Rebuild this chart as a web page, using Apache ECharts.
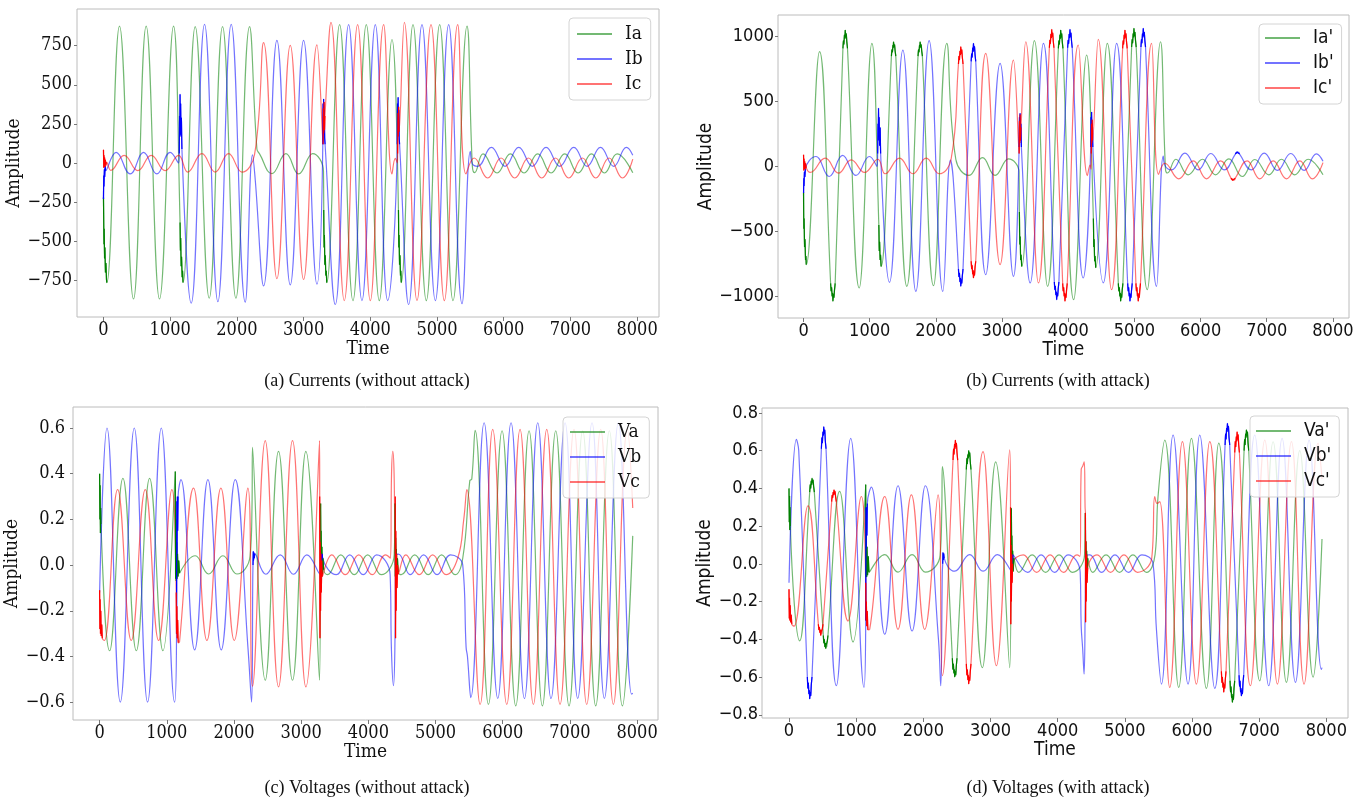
<!DOCTYPE html>
<html>
<head>
<meta charset="utf-8">
<title>Currents and voltages with and without attack</title>
<script src="https://cdn.jsdelivr.net/npm/echarts@6.0.0/dist/echarts.min.js"></script>
<style>
  html, body { margin: 0; padding: 0; background: #fff; }
  #chart { width: 1370px; height: 805px; }
</style>
</head>
<body>
<div id="chart"></div>
<script>
// tick labels
var timeTicks = [0, 1000, 2000, 3000, 4000, 5000, 6000, 7000, 8000];
var ampTicksA = [-750, -500, -250, 0, 250, 500, 750];
var ampTicksB = [-1000, -500, 0, 500, 1000];
var ampTicksC = [-0.6, -0.4, -0.2, 0, 0.2, 0.4, 0.6];
var ampTicksD = [-0.8, -0.6, -0.4, -0.2, 0, 0.2, 0.4, 0.6, 0.8];

var namesA = ['Ia', 'Ib', 'Ic'];
var namesB = ["Ia'", "Ib'", "Ic'"];
var namesC = ['Va', 'Vb', 'Vc'];
var namesD = ["Va'", "Vb'", "Vc'"];

// (a) currents without attack: [time, amplitude] at peaks, troughs and fault edges
var iaA = [[240,876],[450,-870],[640,876],[840,-870],[1050,876],[1375,872],[1585,-865],[1785,872],[1985,-865],[2190,872],[2300,90],[2340,58],[2525,-68],[2735,60],[2925,-70],[3135,60],[3298,-53],[3540,885],[3740,-880],[3940,885],[4135,-880],[4325,790],[4640,885],[4840,-880],[5040,885],[5240,-880],[5450,875],[5530,-20],[5565,-62],[5690,58],[5900,-64],[6100,58],[6305,-64],[6510,58],[6710,-64],[6915,58],[7115,-64],[7315,58],[7510,-64],[7700,58],[7935,-62]];
var ibA = [[190,68],[400,-70],[600,68],[800,-70],[1000,68],[1125,0],[1315,-897],[1515,887],[1715,-887],[1915,887],[2125,-890],[2235,52],[2275,-107],[2400,-786],[2600,784],[2800,-780],[3000,784],[3200,-775],[3475,-905],[3675,885],[3875,-880],[4075,885],[4260,-880],[4575,-905],[4775,885],[4975,-880],[5175,885],[5375,-900],[5500,75],[5530,-5],[5610,-21],[5815,100],[6020,-21],[6225,100],[6430,-21],[6635,100],[6840,-21],[7050,100],[7250,-21],[7450,100],[7650,-21],[7840,100],[7935,50]];
var icA = [[110,-47],[310,49],[515,-49],[715,49],[925,-49],[1125,49],[1265,-58],[1475,60],[1675,-58],[1875,60],[2075,-58],[2265,55],[2400,770],[2600,-740],[2800,752],[3000,-745],[3200,755],[3410,900],[3610,-880],[3810,885],[4000,-880],[4200,885],[4325,-70],[4375,30],[4405,0],[4510,900],[4700,-880],[4910,885],[5110,-880],[5310,885],[5435,-70],[5557,32],[5760,-96],[5960,32],[6165,-96],[6370,32],[6570,-96],[6775,32],[6975,-96],[7180,32],[7380,-96],[7580,32],[7780,-96],[7935,25]];
// dense noisy stretches (drawn dark)
var iaA_noise = [
  [[0,-220],[3,-350],[7,-520],[11,-420],[16,-610],[22,-540],[29,-700],[37,-640],[45,-745],[50,-765]],
  [[1148,-380],[1153,-560],[1158,-480],[1164,-660],[1171,-600],[1179,-730],[1186,-690],[1192,-765]],
  [[3302,-300],[3307,-540],[3312,-460],[3318,-650],[3325,-590],[3333,-720],[3340,-690],[3347,-765]],
  [[4422,-300],[4427,-540],[4432,-460],[4438,-650],[4445,-590],[4452,-720],[4458,-690],[4464,-765]]
];
var ibA_noise = [
  [[0,-230],[4,-80],[8,-150],[13,-40],[18,-90],[25,-20],[32,-50]],
  [[1136,60],[1140,300],[1144,180],[1148,440],[1152,230],[1157,380],[1162,170],[1168,290],[1176,90]],
  [[3288,120],[3292,380],[3296,240],[3300,410],[3305,220],[3310,340],[3316,160],[3322,120]],
  [[4404,120],[4408,380],[4412,240],[4417,420],[4422,220],[4427,340],[4433,160],[4439,120]]
];
var icA_noise = [
  [[0,85],[4,-30],[8,50],[12,-20],[17,35],[22,-25],[28,20],[35,-15],[45,5]],
  [[3292,120],[3297,350],[3302,190],[3307,390],[3313,210],[3320,300]],
  [[4410,60],[4415,320],[4420,170],[4425,360],[4431,200]]
];

// (b) currents with attack
var iaB = [[242,885],[444,-1038],[630,1051],[841,-936],[1033,949],[1360,961],[1561,-923],[1762,961],[1964,-918],[2165,949],[2301,56],[2502,-69],[2704,69],[2895,-69],[3096,59],[3257,-44],[3489,969],[3688,-923],[3886,1051],[4082,-1026],[4278,859],[4590,949],[4792,-1038],[4993,1064],[5194,-949],[5395,961],[5470,-20],[5500,-50],[5627,56],[5813,-64],[6030,56],[6226,-64],[6427,58],[6629,-77],[6820,54],[7031,-64],[7222,56],[7424,-64],[7625,56],[7850,-64]];
var ibB = [[187,77],[388,-77],[590,85],[791,-69],[997,77],[1110,0],[1299,-892],[1501,897],[1697,-962],[1898,969],[2105,-962],[2220,50],[2260,-80],[2376,-923],[2568,949],[2754,-833],[2970,795],[3172,-846],[3425,-897],[3625,949],[3825,-1026],[4026,1056],[4226,-859],[4530,-897],[4731,949],[4933,-1038],[5134,1064],[5335,-923],[5436,80],[5470,0],[5562,-26],[5763,103],[5964,-26],[6155,100],[6357,-26],[6558,115],[6769,-26],[6961,103],[7162,-30],[7363,100],[7565,-30],[7751,97],[7850,40]];
var icB = [[101,-46],[328,64],[529,-51],[720,51],[922,-46],[1123,56],[1234,-56],[1450,64],[1652,-56],[1853,64],[2049,-56],[2230,56],[2376,923],[2568,-859],[2754,872],[2970,-756],[3172,820],[3358,961],[3550,-897],[3750,1056],[3951,-1038],[4152,936],[4290,-70],[4330,10],[4345,-20],[4454,979],[4655,-949],[4857,1051],[5058,-1038],[5260,949],[5365,-60],[5460,25],[5672,-95],[5889,44],[6090,-95],[6301,44],[6493,-108],[6704,44],[6895,-95],[7097,44],[7298,-95],[7500,44],[7690,-95],[7850,30]];
var iaB_noise = [
  [[0,-200],[4,-480],[9,-400],[15,-620],[22,-560],[30,-720],[36,-690],[41,-756]],
  [[409,-900],[417,-960],[424,-930],[432,-1000],[439,-975],[444,-1038],[451,-985],[459,-1010],[468,-950],[478,-900]],
  [[595,910],[603,970],[610,940],[618,1015],[625,985],[630,1051],[637,995],[645,1025],[654,960],[664,910]],
  [[1138,-450],[1144,-650],[1150,-580],[1157,-720],[1164,-680],[1172,-770]],
  [[1328,850],[1336,900],[1343,880],[1351,935],[1356,915],[1360,961],[1367,920],[1375,940],[1384,890],[1394,850]],
  [[1730,850],[1738,900],[1745,880],[1753,935],[1758,915],[1762,961],[1769,920],[1777,940],[1786,890],[1796,850]],
  [[3262,-350],[3268,-600],[3274,-540],[3281,-720],[3288,-680],[3297,-770]],
  [[3851,910],[3859,970],[3866,940],[3874,1015],[3881,985],[3886,1051],[3893,995],[3901,1025],[3910,960],[3920,910]],
  [[4380,-400],[4386,-620],[4392,-560],[4399,-730],[4406,-690],[4415,-780]],
  [[4757,-900],[4765,-960],[4772,-930],[4780,-1000],[4787,-975],[4792,-1038],[4799,-985],[4807,-1010],[4816,-950],[4826,-900]],
  [[4958,920],[4966,980],[4973,950],[4981,1025],[4988,995],[4993,1064],[5000,1005],[5008,1035],[5017,970],[5027,920]]
];
var ibB_noise = [
  [[0,-205],[4,-90],[8,-150],[13,-40],[20,-80],[28,-20]],
  [[1120,100],[1125,330],[1129,200],[1133,449],[1138,230],[1143,380],[1150,160],[1158,300],[1165,100]],
  [[2341,-790],[2349,-850],[2356,-820],[2364,-890],[2371,-860],[2376,-923],[2383,-870],[2391,-900],[2400,-840],[2410,-790]],
  [[2533,810],[2541,870],[2548,840],[2556,915],[2563,885],[2568,949],[2575,895],[2583,925],[2592,860],[2602,810]],
  [[3258,150],[3263,380],[3268,230],[3272,410],[3278,220],[3284,330],[3292,150]],
  [[3790,-890],[3798,-950],[3805,-920],[3813,-990],[3820,-965],[3825,-1026],[3832,-975],[3840,-1000],[3849,-940],[3859,-890]],
  [[3991,915],[3999,975],[4006,945],[4014,1020],[4021,990],[4026,1056],[4033,1000],[4041,1030],[4050,965],[4060,915]],
  [[4340,150],[4345,380],[4349,240],[4353,420],[4359,220],[4365,330],[4372,150]],
  [[4898,-900],[4906,-960],[4913,-930],[4921,-1000],[4928,-975],[4933,-1038],[4940,-985],[4948,-1010],[4957,-950],[4967,-900]],
  [[5099,920],[5107,980],[5114,950],[5122,1025],[5129,995],[5134,1064],[5141,1005],[5149,1035],[5158,970],[5168,920]],
  [[6525,95],[6535,108],[6545,100],[6552,112],[6558,115],[6566,105],[6576,110],[6590,95]]
];
var icB_noise = [
  [[0,90],[4,-30],[8,60],[12,-20],[17,40],[23,-20],[30,25],[40,-10]],
  [[2341,790],[2349,850],[2356,820],[2364,890],[2371,860],[2376,923],[2383,870],[2391,900],[2400,840],[2410,790]],
  [[2533,-730],[2541,-790],[2548,-760],[2556,-830],[2563,-800],[2568,-859],[2575,-810],[2583,-840],[2592,-775],[2602,-730]],
  [[3258,100],[3263,350],[3268,180],[3273,400],[3279,200],[3286,300]],
  [[3715,915],[3723,975],[3730,945],[3738,1020],[3745,990],[3750,1056],[3757,1000],[3765,1030],[3774,965],[3784,915]],
  [[3916,-900],[3924,-960],[3931,-930],[3939,-1000],[3946,-975],[3951,-1038],[3958,-985],[3966,-1010],[3975,-950],[3985,-900]],
  [[4348,100],[4352,330],[4357,180],[4362,360],[4368,200]],
  [[4822,910],[4830,970],[4837,940],[4845,1015],[4852,985],[4857,1051],[4864,995],[4872,1025],[4881,960],[4891,910]],
  [[5023,-900],[5031,-960],[5038,-930],[5046,-1000],[5053,-975],[5058,-1038],[5065,-985],[5073,-1010],[5082,-950],[5092,-900]],
  [[6460,-90],[6470,-102],[6480,-95],[6487,-106],[6493,-108],[6501,-98],[6511,-104],[6525,-90]]
];

// (c) voltages without attack
var vaC = [[149,-0.375],[347,0.38],[546,-0.375],[744,0.38],[942,-0.375],[1200,-0.035],[1423,0.041],[1622,-0.039],[1835,0.041],[2043,-0.039],[2240,0.04],[2268,0.25],[2276,0.515],[2465,-0.504],[2663,0.498],[2871,-0.504],[3070,0.498],[3273,-0.504],[3390,-0.042],[3590,0.045],[3790,-0.042],[3990,0.045],[4190,-0.042],[4385,0.045],[4490,-0.042],[4690,0.045],[4890,-0.042],[5090,0.045],[5290,-0.042],[5405,0.03],[5510,0.37],[5539,0.376],[5589,0.59],[5787,-0.61],[5990,0.588],[6194,-0.616],[6392,0.588],[6590,-0.616],[6789,0.588],[6987,-0.616],[7190,0.588],[7384,-0.616],[7587,0.588],[7781,-0.616],[7935,0.128]];
var vbC = [[0,-0.12],[110,0.6],[308,-0.6],[516,0.6],[714,-0.6],[918,0.6],[1116,-0.6],[1210,0.374],[1414,-0.371],[1612,0.374],[1810,-0.371],[2018,0.374],[2210,-0.37],[2262,-0.6],[2280,-0.05],[2475,-0.04],[2688,0.045],[2886,-0.04],[3085,0.045],[3283,-0.04],[3523,-0.042],[3723,0.045],[3923,-0.042],[4123,0.045],[4324,-0.042],[4344,-0.375],[4374,-0.528],[4394,-0.375],[4448,0.048],[4623,-0.042],[4823,0.045],[5023,-0.042],[5223,0.045],[5405,0.0],[5455,-0.36],[5475,-0.4],[5524,-0.58],[5723,0.623],[5926,-0.584],[6124,0.623],[6323,-0.584],[6521,0.623],[6719,-0.584],[6928,0.623],[7116,-0.584],[7329,0.623],[7513,-0.584],[7721,0.623],[7919,-0.565],[7935,-0.56]];
var vcC = [[70,-0.33],[268,0.33],[471,-0.33],[680,0.33],[878,-0.33],[1076,0.33],[1190,-0.335],[1399,0.337],[1597,-0.33],[1805,0.337],[2004,-0.33],[2207,0.337],[2276,-0.53],[2465,0.545],[2663,-0.533],[2871,0.545],[3070,-0.533],[3273,0.545],[3457,0.045],[3657,-0.042],[3857,0.045],[4057,-0.042],[4257,0.045],[4329,0.03],[4345,0.4],[4364,0.498],[4383,0.4],[4397,0.05],[4557,0.045],[4757,-0.042],[4957,0.045],[5157,-0.042],[5330,0.03],[5420,0.2],[5465,0.33],[5663,-0.61],[5851,0.594],[6060,-0.61],[6258,0.594],[6456,-0.61],[6655,0.594],[6853,-0.61],[7061,0.594],[7250,-0.61],[7458,0.594],[7647,-0.61],[7855,0.594],[7935,0.25]];
var vaC_noise = [
  [[0,0.4],[4,0.2],[8,0.35],[12,0.14],[16,0.25],[20,0.18]],
  [[1126,0.41],[1131,-0.06],[1136,0.2],[1141,-0.07],[1147,0.1],[1153,-0.06],[1160,0.05],[1168,-0.05],[1178,0.02],[1190,-0.035]],
  [[3290,0.27],[3294,-0.04],[3298,0.15],[3303,-0.05],[3309,0.08],[3316,-0.04],[3325,0.03],[3335,-0.02]],
  [[4398,0.27],[4402,-0.05],[4406,0.12],[4411,-0.05],[4417,0.07],[4424,-0.04],[4433,0.03],[4443,-0.03]]
];
var vbC_noise = [
  [[1145,-0.3],[1149,0.28],[1153,0.05],[1157,0.3],[1162,0.15],[1168,0.3]],
  [[2283,0.0],[2287,0.06],[2291,0.02],[2296,0.055],[2302,0.03],[2310,0.05]],
  [[3300,0.0],[3304,0.05],[3308,0.02],[3313,0.048],[3319,0.03]],
  [[4403,0.0],[4407,0.05],[4412,0.02],[4418,0.045]]
];
var vcC_noise = [
  [[0,-0.11],[4,-0.28],[8,-0.15],[13,-0.3],[18,-0.2],[24,-0.31],[32,-0.26],[40,-0.32]],
  [[1140,-0.12],[1145,-0.3],[1150,-0.18],[1155,-0.32],[1162,-0.24],[1170,-0.34]],
  [[3276,0.3],[3280,-0.32],[3284,0.1],[3289,-0.2],[3294,0.05],[3300,-0.12],[3307,0.02],[3315,-0.05]],
  [[4400,0.3],[4405,-0.32],[4409,0.15],[4414,-0.2],[4420,0.05],[4427,-0.1],[4435,0.0],[4445,-0.04]]
];

// (d) voltages with attack
var vaD = [[159,-0.408],[343,0.454],[546,-0.449],[755,0.384],[953,-0.414],[1425,0.049],[1623,-0.044],[1832,0.049],[2030,-0.044],[2250,0.045],[2275,0.3],[2283,0.516],[2467,-0.6],[2675,0.6],[2879,-0.55],[3077,0.54],[3286,-0.55],[3420,-0.045],[3620,0.048],[3820,-0.045],[4020,0.048],[4220,-0.045],[4400,0.048],[4520,-0.045],[4720,0.048],[4920,-0.045],[5120,0.048],[5320,-0.045],[5450,0.05],[5494,0.357],[5594,0.656],[5802,-0.655],[5991,0.665],[6214,-0.66],[6398,0.64],[6601,-0.734],[6810,0.71],[7008,-0.62],[7207,0.647],[7405,-0.628],[7604,0.6],[7802,-0.6],[7935,0.132]];
var vbD = [[0,-0.1],[110,0.66],[145,0.6],[308,-0.716],[517,0.727],[705,-0.646],[919,0.665],[1117,-0.655],[1226,0.407],[1425,-0.373],[1623,0.414],[1832,-0.356],[2030,0.414],[2225,-0.4],[2259,-0.646],[2282,-0.05],[2467,-0.039],[2690,0.049],[2889,-0.039],[3102,0.049],[3311,-0.039],[3553,-0.045],[3753,0.048],[3953,-0.045],[4153,0.048],[4335,-0.045],[4350,-0.33],[4372,-0.45],[4393,-0.585],[4410,-0.2],[4478,0.048],[4653,-0.045],[4853,0.048],[5053,-0.045],[5253,0.048],[5420,0.0],[5470,-0.347],[5544,-0.637],[5718,0.683],[5941,-0.637],[6115,0.683],[6338,-0.66],[6527,0.745],[6735,-0.7],[6934,0.683],[7142,-0.646],[7341,0.665],[7539,-0.628],[7743,0.656],[7926,-0.56],[7935,-0.55]];
var vcD = [[75,-0.33],[283,0.308],[472,-0.38],[670,0.392],[879,-0.303],[1077,0.357],[1201,-0.347],[1425,0.357],[1623,-0.347],[1822,0.366],[2020,-0.347],[2219,0.366],[2283,-0.593],[2477,0.656],[2675,-0.637],[2889,0.595],[3087,-0.54],[3286,0.604],[3487,0.048],[3687,-0.045],[3887,0.048],[4087,-0.045],[4287,0.048],[4332,0.04],[4350,0.5],[4375,0.52],[4395,0.54],[4408,0.3],[4587,0.048],[4787,-0.045],[4987,0.048],[5187,-0.045],[5400,0.03],[5445,0.357],[5480,0.32],[5519,0.33],[5668,-0.655],[5857,0.648],[6065,-0.637],[6264,0.648],[6472,-0.68],[6671,0.7],[6869,-0.646],[7083,0.656],[7271,-0.637],[7480,0.648],[7668,-0.637],[7877,0.64],[7935,0.45]];
var vaD_noise = [
  [[0,0.4],[4,0.22],[8,0.36],[12,0.18],[16,0.3],[20,0.2]],
  [[308,0.38],[316,0.42],[323,0.4],[331,0.44],[338,0.42],[343,0.454],[350,0.43],[358,0.445],[367,0.41],[377,0.38]],
  [[511,-0.38],[519,-0.42],[526,-0.4],[534,-0.44],[541,-0.42],[546,-0.449],[553,-0.43],[561,-0.44],[570,-0.41],[580,-0.38]],
  [[1142,0.42],[1146,-0.07],[1151,0.18],[1156,-0.07],[1162,0.09],[1170,-0.06],[1180,0.04],[1192,-0.045]],
  [[2432,-0.5],[2440,-0.56],[2447,-0.53],[2455,-0.58],[2462,-0.56],[2467,-0.6],[2474,-0.57],[2482,-0.59],[2491,-0.54],[2501,-0.5]],
  [[2640,0.5],[2648,0.56],[2655,0.53],[2663,0.58],[2670,0.56],[2675,0.6],[2682,0.57],[2690,0.59],[2699,0.54],[2709,0.5]],
  [[3311,0.295],[3315,-0.05],[3319,0.15],[3324,-0.05],[3330,0.07],[3338,-0.04],[3348,0.03]],
  [[4412,0.27],[4416,-0.05],[4420,0.12],[4425,-0.05],[4431,0.07],[4438,-0.04],[4447,0.03]],
  [[6566,-0.62],[6574,-0.68],[6581,-0.65],[6589,-0.71],[6596,-0.69],[6601,-0.734],[6608,-0.7],[6616,-0.72],[6625,-0.66],[6635,-0.62]],
  [[6775,0.6],[6783,0.66],[6790,0.63],[6798,0.69],[6805,0.67],[6810,0.71],[6817,0.68],[6825,0.7],[6834,0.64],[6844,0.6]]
];
var vbD_noise = [
  [[273,-0.6],[281,-0.66],[288,-0.63],[296,-0.69],[303,-0.67],[308,-0.716],[315,-0.68],[323,-0.7],[332,-0.64],[342,-0.6]],
  [[482,0.61],[490,0.67],[497,0.64],[505,0.7],[512,0.68],[517,0.727],[524,0.69],[532,0.71],[541,0.65],[551,0.61]],
  [[1142,-0.3],[1146,0.3],[1150,0.08],[1154,0.3],[1160,0.15],[1166,0.32]],
  [[2288,0.0],[2292,0.06],[2297,0.02],[2303,0.055],[2310,0.03]],
  [[3318,0.0],[3322,0.05],[3327,0.02],[3333,0.048]],
  [[4415,0.0],[4419,0.05],[4424,0.02],[4430,0.045]],
  [[6492,0.63],[6500,0.69],[6507,0.66],[6515,0.72],[6522,0.7],[6527,0.745],[6534,0.71],[6542,0.73],[6551,0.67],[6561,0.63]],
  [[6700,-0.59],[6708,-0.65],[6715,-0.62],[6723,-0.68],[6730,-0.66],[6735,-0.7],[6742,-0.67],[6750,-0.69],[6759,-0.63],[6769,-0.59]]
];
var vcD_noise = [
  [[0,-0.135],[4,-0.29],[8,-0.18],[13,-0.3],[18,-0.22],[25,-0.31],[33,-0.27],[42,-0.32]],
  [[437,-0.32],[445,-0.35],[452,-0.335],[460,-0.365],[467,-0.35],[472,-0.38],[479,-0.36],[487,-0.37],[496,-0.345],[506,-0.32]],
  [[635,0.33],[643,0.365],[650,0.35],[658,0.38],[665,0.365],[670,0.392],[677,0.37],[685,0.385],[694,0.355],[704,0.33]],
  [[1142,-0.1],[1147,-0.3],[1152,-0.2],[1157,-0.33],[1165,-0.25],[1175,-0.35]],
  [[2442,0.55],[2450,0.61],[2457,0.58],[2465,0.635],[2472,0.61],[2477,0.656],[2484,0.62],[2492,0.64],[2501,0.59],[2511,0.55]],
  [[2640,-0.53],[2648,-0.59],[2655,-0.56],[2663,-0.615],[2670,-0.59],[2675,-0.637],[2682,-0.6],[2690,-0.62],[2699,-0.57],[2709,-0.53]],
  [[3298,0.3],[3302,-0.32],[3306,0.1],[3311,-0.2],[3316,0.05],[3322,-0.1],[3330,0.0]],
  [[4413,0.27],[4416,-0.31],[4420,0.12],[4425,-0.2],[4431,0.05],[4438,-0.1],[4447,-0.02]],
  [[6437,-0.57],[6445,-0.63],[6452,-0.6],[6460,-0.655],[6467,-0.63],[6472,-0.68],[6479,-0.64],[6487,-0.66],[6496,-0.61],[6506,-0.57]],
  [[6636,0.59],[6644,0.65],[6651,0.62],[6659,0.675],[6666,0.65],[6671,0.7],[6678,0.66],[6686,0.685],[6695,0.63],[6705,0.59]]
];

var soft = ['rgba(0,128,0,0.55)', 'rgba(0,0,255,0.55)', 'rgba(255,0,0,0.55)'];
var hard = ['#008000', '#0000ff', '#ff0000'];
var serif = "'DejaVu Serif Condensed', 'DejaVu Serif', serif";
var sans = "'DejaVu Sans Condensed', 'DejaVu Sans', sans-serif";

function withNoise(main, noise) {
  var all = main.slice();
  noise.forEach(function (seg) { all = all.concat(seg); });
  all.sort(function (p, q) { return p[0] - q[0]; });
  return all;
}
function minus(s) { return String(s).replace('-', '\u2212'); }

var grids = [], xAxes = [], yAxes = [], legends = [], series = [];

function panel(k, box, xr, yr, yTicks, yDec, font, fs, yGap, yMargin, names, mains, noises, leg) {
  grids.push({left: box[0], top: box[1], width: box[2], height: box[3], show: true,
    borderColor: '#bcbcbc', borderWidth: 1, backgroundColor: 'transparent'});
  xAxes.push({gridIndex: k, type: 'value', min: xr[0], max: xr[1],
    axisLine: {show: false, onZero: false}, splitLine: {show: false},
    axisTick: {show: true, length: 4, customValues: timeTicks, lineStyle: {color: '#777'}},
    axisLabel: {customValues: timeTicks, margin: 4, fontSize: fs, fontFamily: font, color: '#111',
      formatter: function (v) { return String(Math.round(v)); }},
    name: 'Time', nameLocation: 'middle', nameGap: 19,
    nameTextStyle: {fontSize: fs + 1, fontFamily: font, color: '#111', verticalAlign: 'top'}});
  yAxes.push({gridIndex: k, type: 'value', min: yr[0], max: yr[1],
    axisLine: {show: false, onZero: false}, splitLine: {show: false},
    axisTick: {show: true, length: 3, customValues: yTicks, lineStyle: {color: '#777'}},
    axisLabel: {customValues: yTicks, margin: yMargin, fontSize: fs, fontFamily: font, color: '#111',
      formatter: function (v) { return minus(yDec ? v.toFixed(1) : Math.round(v)); }},
    name: 'Amplitude', nameLocation: 'middle', nameGap: yGap, nameRotate: 90,
    nameTextStyle: {fontSize: fs + 1, fontFamily: font, color: '#111'}});
  legends.push({data: names, orient: 'vertical', left: leg[0], top: leg[1],
    icon: 'rect', itemWidth: 35, itemHeight: 2, itemGap: 5, selectedMode: false,
    padding: leg[2], backgroundColor: 'rgba(255,255,255,0.8)', borderColor: '#d4d4d4',
    borderWidth: 1, borderRadius: 4,
    textStyle: {fontSize: fs + 1, lineHeight: 20, fontFamily: font, color: '#111', padding: [0, 0, 0, 8]}});
  names.forEach(function (nm, i) {
    series.push({name: nm, type: 'line', xAxisIndex: k, yAxisIndex: k,
      data: withNoise(mains[i], noises[i]), symbol: 'none', smooth: 0.45,
      lineStyle: {width: 1.2, color: soft[i]}, itemStyle: {color: soft[i]}, z: 2});
    noises[i].forEach(function (seg) {
      series.push({type: 'line', xAxisIndex: k, yAxisIndex: k, data: seg, symbol: 'none',
        silent: true, lineStyle: {width: 1.2, color: hard[i]}, itemStyle: {color: hard[i]}, z: 3});
    });
  });
}

panel(0, [77, 9, 582, 308], [-397, 8328], [-985, 985], ampTicksA, false, serif, 18, 48, 5,
  namesA, [iaA, ibA, icA], [iaA_noise, ibA_noise, icA_noise], [569, 18, [6, 8, 6, 8]]);
panel(1, [778, 15, 571, 303], [-386, 8243], [-1167, 1167], ampTicksB, false, sans, 18, 58, 4,
  namesB, [iaB, ibB, icB], [iaB_noise, ibB_noise, icB_noise], [1259, 24, [4, 8, 6, 6]]);
panel(2, [73, 407, 585, 313], [-396, 8311], [-0.678, 0.692], ampTicksC, true, serif, 18, 42, 8,
  namesC, [vaC, vbC, vcC], [vaC_noise, vbC_noise, vcC_noise], [563, 417, [5, 8, 6, 7]]);
panel(3, [762, 408, 586, 310], [-402, 8322], [-0.817, 0.826], ampTicksD, true, sans, 18, 44, 4,
  namesD, [vaD, vbD, vcD], [vaD_noise, vbD_noise, vcD_noise], [1250, 416, [5, 8, 6, 6]]);

function caption(txt, x, y) {
  return {type: 'text', x: x, y: y, style: {text: txt, fontSize: 18,
    fontFamily: "'Liberation Serif', 'Times New Roman', serif", fill: '#111',
    textAlign: 'center', textVerticalAlign: 'middle', align: 'center', verticalAlign: 'middle'}};
}

var chart = echarts.init(document.getElementById('chart'), null, {renderer: 'canvas'});
chart.setOption({
  backgroundColor: '#fff',
  animation: false,
  grid: grids,
  xAxis: xAxes,
  yAxis: yAxes,
  legend: legends,
  series: series,
  graphic: [
    caption('(a) Currents (without attack)', 367, 381),
    caption('(b) Currents (with attack)', 1058, 381),
    caption('(c) Voltages (without attack)', 367, 788),
    caption('(d) Voltages (with attack)', 1058, 788)
  ]
});
</script>
</body>
</html>
